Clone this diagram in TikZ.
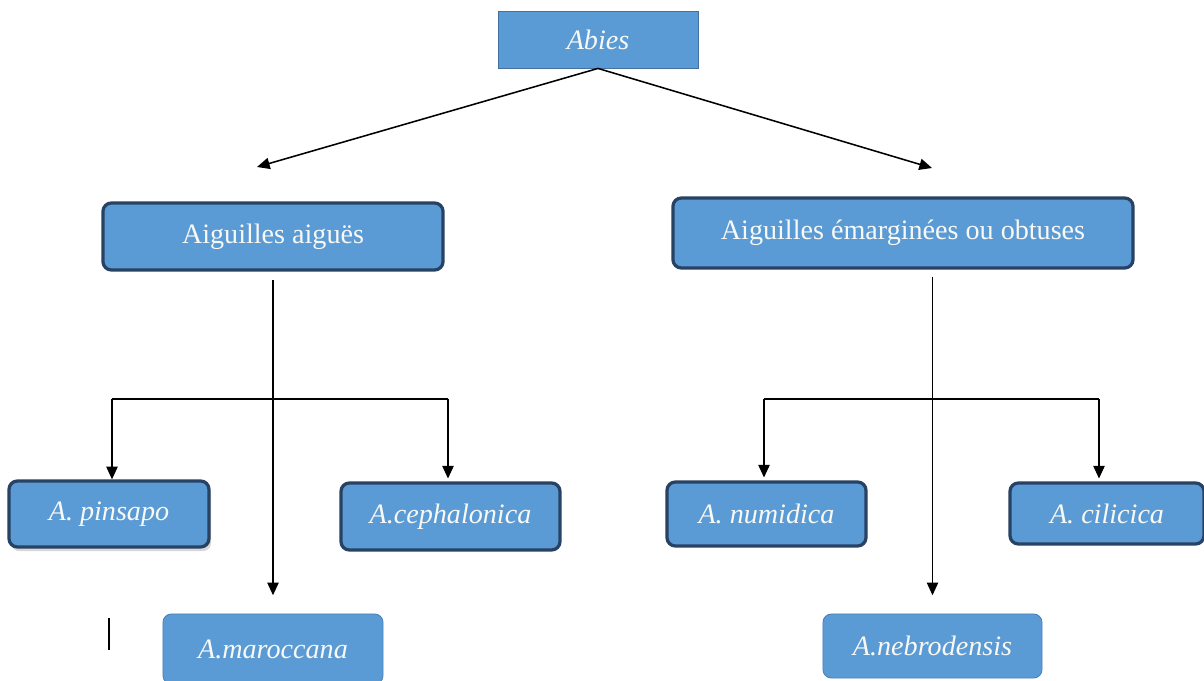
\documentclass[tikz,border=0pt]{standalone}
\usepackage{fontspec}
\setmainfont{Liberation Serif}
\usetikzlibrary{arrows.meta,shadows}

\definecolor{boxblue}{RGB}{91,155,213}
\definecolor{boxedge}{RGB}{40,66,100}
\definecolor{topedge}{RGB}{68,114,160}
\definecolor{softedge}{RGB}{76,130,186}
\definecolor{boxtext}{RGB}{248,248,244}

\tikzset{
  treebox/.style={rectangle, fill=boxblue, text=boxtext, inner sep=0pt, font=\fontsize{20}{24}\selectfont},
  topbox/.style={treebox, draw=topedge, line width=0.6pt, font=\fontsize{20}{24}\selectfont\itshape},
  groupbox/.style={treebox, draw=boxedge, line width=2.3pt, rounded corners=6pt},
  speciesbox/.style={groupbox, font=\fontsize{20}{24}\selectfont\itshape},
  lastbox/.style={speciesbox, draw=softedge, line width=0.6pt},
  link/.style={-{Triangle[length=9pt,width=8pt]}, line width=1.1pt}
}

\begin{document}
\begin{tikzpicture}[x=0.025cm, y=-0.025cm]
  \useasboundingbox (0,0) rectangle (1204,681);
  % genus and the two groups
  \node[topbox, minimum width=5cm, minimum height=1.425cm] (abies) at (598,39.5) {Abies};
  \node[groupbox, minimum width=8.5cm, minimum height=1.675cm] (aigues) at (273,236.5) {Aiguilles aiguës};
  \node[groupbox, minimum width=11.5cm, minimum height=1.75cm] (emarg) at (903,233) {Aiguilles émarginées ou obtuses};
  % species
  \node[speciesbox, minimum width=5cm, minimum height=1.65cm,
        drop shadow={shadow xshift=1.5pt, shadow yshift=-3pt, fill=black!30}] (pinsapo) at (109,514) {A. pinsapo};
  \node[speciesbox, minimum width=5.475cm, minimum height=1.675cm] (cephalonica) at (450.5,516.5) {A.cephalonica};
  \node[lastbox, minimum width=5.5cm, minimum height=1.75cm] (maroccana) at (273,649) {A.maroccana};
  \node[speciesbox, minimum width=4.975cm, minimum height=1.6cm] (numidica) at (766.5,514) {A. numidica};
  \node[speciesbox, minimum width=4.85cm, minimum height=1.525cm] (cilicica) at (1107,513.5) {A. cilicica};
  \node[lastbox, minimum width=5.475cm, minimum height=1.6cm] (nebrodensis) at (932.5,646) {A.nebrodensis};

  \coordinate (lhead) at (257,167);
  \coordinate (rhead) at (932,168);
  \coordinate (lleft) at (112,399);
  \coordinate (lright) at (448,399);
  \coordinate (rleft) at (764,399);
  \coordinate (rright) at (1099,399);

  \path[link]
  (abies.south) edge (lhead)
                edge (rhead);

  % left branch
  \draw[link, shorten <=6pt, shorten >=13pt] (aigues.south) -- (maroccana.north);
  \draw[line width=1.1pt] (lleft) -- (lright);
  \draw[link] (lleft) -- (lleft |- pinsapo.north);
  \draw[link, shorten >=2pt] (lright) -- (lright |- cephalonica.north);

  % right branch
  \draw[link, shorten <=5pt, shorten >=13pt] (nebrodensis.north |- emarg.south) -- (nebrodensis.north);
  \draw[line width=1.1pt] (rleft) -- (rright);
  \draw[link, shorten >=2pt] (rleft) -- (rleft |- numidica.north);
  \draw[link, shorten >=2pt] (rright) -- (rright |- cilicica.north);

  \draw[line width=1pt] (109,618) -- (109,650);
\end{tikzpicture}
\end{document}
